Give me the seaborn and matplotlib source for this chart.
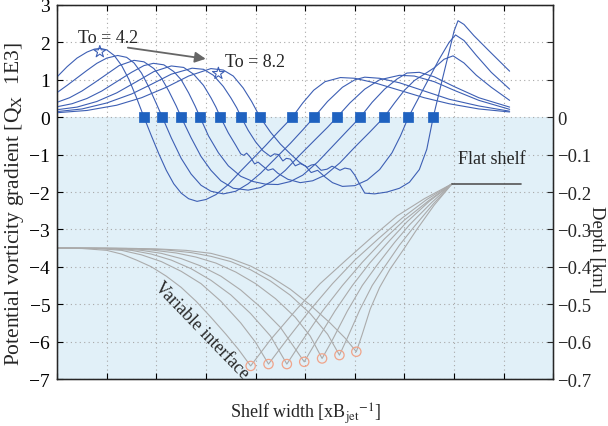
"""Shelf PV gradient and interface depth for increasing To."""

import numpy as np
import pandas as pd
import matplotlib
matplotlib.use('Agg')
import matplotlib.pyplot as plt
import seaborn as sns

# potential vorticity gradient curves, one per To (4.2 ... 8.2)
pv_x_1 = [0, 0.2, 0.4, 0.6, 0.75, 0.87, 1.0, 1.15, 1.3, 1.45, 1.6, 1.75, 1.9, 2.05, 2.2, 2.35, 2.5, 2.65, 2.82, 3.0, 3.2, 3.45, 3.7, 3.95, 4.2, 4.45, 4.74, 4.95, 5.17, 5.4, 5.71, 6.0, 6.4, 6.9, 7.4, 7.9, 8.5, 9.12]
pv_y_1 = [1.08, 1.35, 1.58, 1.74, 1.82, 1.84, 1.8, 1.65, 1.38, 1.0, 0.52, 0, -0.5, -0.98, -1.42, -1.78, -2.03, -2.18, -2.25, -2.2, -2.07, -1.8, -1.44, -1.1, -0.76, -0.4, 0, 0.38, 0.72, 0.95, 1.06, 1.04, 0.92, 0.72, 0.52, 0.36, 0.22, 0.14]
pv_x_2 = [0, 0.2, 0.4, 0.6, 0.8, 1.0, 1.22, 1.4, 1.55, 1.7, 1.85, 2.0, 2.12, 2.3, 2.5, 2.7, 2.9, 3.1, 3.35, 3.6, 3.85, 4.1, 4.4, 4.7, 4.95, 5.18, 5.45, 5.75, 6.0, 6.2, 6.5, 6.9, 7.4, 7.9, 8.5, 9.12]
pv_y_2 = [0.66, 0.85, 1.05, 1.25, 1.44, 1.58, 1.65, 1.6, 1.45, 1.18, 0.8, 0.36, 0, -0.55, -1.1, -1.52, -1.82, -1.98, -2.05, -1.98, -1.78, -1.5, -1.1, -0.7, -0.34, 0, 0.42, 0.8, 1.0, 1.07, 1.04, 0.92, 0.7, 0.48, 0.3, 0.16]
pv_x_3 = [0, 0.25, 0.5, 0.75, 1.0, 1.25, 1.55, 1.75, 1.95, 2.1, 2.25, 2.4, 2.5, 2.7, 2.9, 3.1, 3.3, 3.55, 3.85, 4.1, 4.35, 4.6, 4.9, 5.2, 5.45, 5.64, 5.9, 6.2, 6.5, 6.9, 7.2, 7.6, 8.0, 8.5, 9.12]
pv_y_3 = [0.40, 0.52, 0.7, 0.92, 1.15, 1.38, 1.52, 1.48, 1.3, 1.05, 0.7, 0.3, 0, -0.55, -1.05, -1.42, -1.7, -1.9, -1.95, -1.88, -1.7, -1.42, -1.0, -0.6, -0.27, 0, 0.38, 0.75, 1.0, 1.12, 1.1, 0.95, 0.72, 0.45, 0.21]
pv_x_4 = [0, 0.3, 0.6, 0.9, 1.2, 1.5, 1.75, 1.94, 2.15, 2.35, 2.5, 2.65, 2.78, 2.88, 3.05, 3.25, 3.45, 3.7, 3.95, 4.2, 4.45, 4.7, 4.95, 5.25, 5.55, 5.85, 6.11, 6.35, 6.6, 6.85, 7.05, 7.3, 7.6, 8.0, 8.5, 9.12]
pv_y_4 = [0.28, 0.36, 0.5, 0.7, 0.95, 1.2, 1.38, 1.44, 1.4, 1.22, 1.0, 0.65, 0.3, 0, -0.5, -0.95, -1.3, -1.58, -1.72, -1.79, -1.8, -1.72, -1.55, -1.2, -0.78, -0.36, 0, 0.4, 0.75, 1.02, 1.18, 1.2, 1.08, 0.82, 0.52, 0.27]
pv_x_5 = [0, 0.4, 0.8, 1.2, 1.6, 1.95, 2.3, 2.55, 2.75, 2.95, 3.1, 3.2, 3.29, 3.45, 3.6, 3.7, 3.76, 3.82, 3.9, 3.98, 4.05, 4.12, 4.25, 4.35, 4.45, 4.65, 4.9, 5.15, 5.4, 5.7, 6.0, 6.3, 6.59, 6.8, 7.0, 7.2, 7.46, 7.6, 7.8, 7.98, 8.2, 8.45, 8.75, 9.12]
pv_y_5 = [0.2, 0.27, 0.42, 0.65, 0.95, 1.22, 1.37, 1.33, 1.15, 0.85, 0.52, 0.27, 0, -0.42, -0.75, -0.98, -1.02, -0.96, -1.08, -1.25, -1.2, -1.28, -1.42, -1.38, -1.5, -1.66, -1.75, -1.7, -1.55, -1.22, -0.8, -0.4, 0, 0.38, 0.72, 0.98, 1.2, 1.32, 1.55, 1.64, 1.45, 1.12, 0.8, 0.45]
pv_x_6 = [0, 0.5, 1.0, 1.5, 1.9, 2.3, 2.72, 2.95, 3.15, 3.35, 3.5, 3.62, 3.71, 3.85, 4.0, 4.15, 4.3, 4.38, 4.46, 4.55, 4.62, 4.7, 4.8, 4.9, 5.0, 5.12, 5.25, 5.4, 5.55, 5.75, 6.0, 6.25, 6.5, 6.75, 6.92, 7.08, 7.3, 7.5, 7.7, 7.9, 8.03, 8.2, 8.45, 8.75, 9.12]
pv_y_6 = [0.15, 0.22, 0.38, 0.62, 0.88, 1.15, 1.31, 1.28, 1.12, 0.82, 0.52, 0.25, 0, -0.35, -0.66, -0.9, -1.05, -0.98, -1.0, -1.17, -1.1, -1.12, -1.3, -1.24, -1.3, -1.48, -1.42, -1.6, -1.75, -1.85, -1.83, -1.68, -1.4, -0.95, -0.5, 0, 0.55, 1.05, 1.55, 2.0, 2.2, 2.05, 1.65, 1.2, 0.75]
pv_x_7 = [0, 0.6, 1.2, 1.7, 2.2, 2.65, 3.1, 3.35, 3.55, 3.75, 3.92, 4.09, 4.3, 4.5, 4.7, 4.88, 5.04, 5.12, 5.2, 5.32, 5.44, 5.54, 5.62, 5.7, 5.8, 5.91, 6.0, 6.08, 6.2, 6.4, 6.65, 6.9, 7.1, 7.3, 7.45, 7.58, 7.68, 7.78, 7.9, 8.0, 8.08, 8.2, 8.4, 8.7, 9.12]
pv_y_7 = [0.12, 0.18, 0.32, 0.52, 0.8, 1.1, 1.30, 1.26, 1.1, 0.78, 0.42, 0, -0.4, -0.72, -0.98, -1.2, -1.34, -1.28, -1.26, -1.42, -1.39, -1.31, -1.36, -1.42, -1.36, -1.39, -1.55, -1.75, -2.03, -2.05, -2.0, -1.9, -1.74, -1.4, -0.86, 0, 0.55, 1.1, 1.75, 2.3, 2.58, 2.48, 2.18, 1.78, 1.23]

# zero crossings of the PV gradient (squares)
zero_x = [1.75, 2.12, 2.50, 2.88, 3.29, 3.71, 4.09, 4.74, 5.18, 5.64, 6.11, 6.59, 7.08, 7.58]
zero_y = [0] * 14

# stars marking the first and last case
star_x = [0.86, 3.25]
star_y = [1.75, 1.17]

# interface (left axis units = depth x10): descending limb, bottom, rising limb to shelf edge
if_x_1 = [0, 0.5, 1.0, 1.3, 1.6, 1.9, 2.2, 2.5, 2.8, 3.1, 3.4, 3.65, 3.9, 4.3, 4.83, 5.3, 5.84, 6.35, 6.85, 7.4, 7.96]
if_y_1 = [-3.5, -3.51, -3.56, -3.66, -3.82, -4.0, -4.25, -4.55, -4.92, -5.35, -5.8, -6.2, -6.65, -5.95, -5.13, -4.45, -3.8, -3.2, -2.64, -2.18, -1.78]
if_x_2 = [0, 0.8, 1.3, 1.7, 2.1, 2.5, 2.9, 3.3, 3.7, 4.0, 4.26, 4.6, 5.1, 5.55, 6.0, 6.5, 6.95, 7.45, 7.96]
if_y_2 = [-3.5, -3.51, -3.56, -3.68, -3.86, -4.12, -4.45, -4.92, -5.5, -6.02, -6.6, -6.0, -5.15, -4.45, -3.82, -3.22, -2.7, -2.2, -1.78]
if_x_3 = [0, 1.0, 1.5, 1.9, 2.3, 2.7, 3.1, 3.5, 3.9, 4.3, 4.63, 4.9, 5.35, 5.75, 6.15, 6.6, 7.0, 7.5, 7.96]
if_y_3 = [-3.5, -3.51, -3.56, -3.66, -3.82, -4.05, -4.36, -4.75, -5.25, -5.85, -6.6, -6.05, -5.18, -4.5, -3.88, -3.25, -2.75, -2.22, -1.78]
if_x_4 = [0, 1.2, 1.7, 2.1, 2.5, 2.9, 3.3, 3.7, 4.1, 4.5, 4.98, 5.22, 5.6, 5.95, 6.3, 6.7, 7.05, 7.5, 7.96]
if_y_4 = [-3.5, -3.51, -3.56, -3.64, -3.78, -3.98, -4.25, -4.62, -5.08, -5.62, -6.54, -6.0, -5.18, -4.5, -3.9, -3.3, -2.8, -2.25, -1.78]
if_x_5 = [0, 1.4, 1.9, 2.4, 2.8, 3.2, 3.6, 4.0, 4.4, 4.8, 5.1, 5.34, 5.55, 5.85, 6.15, 6.45, 6.8, 7.1, 7.55, 7.96]
if_y_5 = [-3.5, -3.51, -3.55, -3.63, -3.74, -3.9, -4.14, -4.45, -4.85, -5.35, -5.85, -6.45, -5.95, -5.18, -4.5, -3.95, -3.35, -2.88, -2.28, -1.78]
if_x_6 = [0, 1.6, 2.2, 2.7, 3.1, 3.5, 3.9, 4.3, 4.7, 5.1, 5.45, 5.69, 5.85, 6.1, 6.35, 6.6, 6.9, 7.2, 7.58, 7.96]
if_y_6 = [-3.5, -3.51, -3.55, -3.62, -3.72, -3.86, -4.08, -4.38, -4.76, -5.25, -5.8, -6.36, -5.9, -5.15, -4.5, -4.0, -3.42, -2.92, -2.32, -1.78]
if_x_7 = [0, 1.0, 2.0, 2.6, 3.1, 3.5, 3.9, 4.3, 4.7, 5.1, 5.5, 5.8, 6.03, 6.15, 6.31, 6.5, 6.71, 7.0, 7.25, 7.6, 7.96]
if_y_7 = [-3.5, -3.5, -3.52, -3.56, -3.64, -3.78, -3.98, -4.26, -4.6, -5.02, -5.5, -5.9, -6.27, -5.8, -5.13, -4.55, -4.06, -3.5, -3.0, -2.35, -1.78]

# deepest point of each interface (circles)
bottom_x = [3.9, 4.26, 4.63, 4.98, 5.34, 5.69, 6.03]
bottom_y = [-6.65, -6.6, -6.6, -6.54, -6.45, -6.36, -6.27]

# flat shelf segment
shelf_x = [7.96, 9.35]
shelf_y = [-1.78, -1.78]

depth_ticks = [0.2, 0.1, 0, -0.1, -0.2, -0.3, -0.4, -0.5, -0.6, -0.7]
depth_labels = ['', '', '0', '\u22120.1', '\u22120.2', '\u22120.3', '\u22120.4', '\u22120.5', '\u22120.6', '\u22120.7']


def long_frame(xs, ys):
    parts = []
    for i, (x, y) in enumerate(zip(xs, ys)):
        parts.append(pd.DataFrame({'x': x, 'y': y, 'case': i}))
    return pd.concat(parts, ignore_index=True)


if __name__ == '__main__':
    pv_df = long_frame([pv_x_1, pv_x_2, pv_x_3, pv_x_4, pv_x_5, pv_x_6, pv_x_7],
                       [pv_y_1, pv_y_2, pv_y_3, pv_y_4, pv_y_5, pv_y_6, pv_y_7])
    if_df = long_frame([if_x_1, if_x_2, if_x_3, if_x_4, if_x_5, if_x_6, if_x_7],
                       [if_y_1, if_y_2, if_y_3, if_y_4, if_y_5, if_y_6, if_y_7])

    sns.set_style('white')
    plt.rcParams['font.family'] = ['Liberation Serif', 'DejaVu Serif']
    plt.rcParams['mathtext.fontset'] = 'stix'
    plt.rcParams['font.size'] = 13

    fig = plt.figure(figsize=(6.08, 4.27), dpi=100)
    ax = fig.add_axes([0.094, 0.110, 0.816, 0.876])
    ax.axhspan(-7, 0, color='#e1f0f8', zorder=0, lw=0)

    sns.lineplot(data=if_df, x='x', y='y', units='case', estimator=None, sort=False,
                 color='#ababab', lw=0.8, ax=ax, zorder=2)
    ax.plot(shelf_x, shelf_y, color='#555555', lw=1.2, zorder=2)
    sns.scatterplot(x=bottom_x, y=bottom_y, marker='o', s=45, facecolor='none',
                    edgecolor='#f0a48a', linewidth=0.9, ax=ax, zorder=4)

    sns.lineplot(data=pv_df, x='x', y='y', units='case', estimator=None, sort=False,
                 color='#3d5fb4', lw=0.8, ax=ax, zorder=3)
    sns.scatterplot(x=zero_x, y=zero_y, marker='s', s=42, color='#1f62c0',
                    edgecolor='#1f62c0', ax=ax, zorder=5)
    sns.scatterplot(x=star_x, y=star_y, marker='*', s=80, facecolor='none',
                    edgecolor='#3d5fb4', linewidth=0.8, ax=ax, zorder=5)

    ax.annotate('', xy=(3.05, 1.55), xytext=(1.37, 1.87),
                arrowprops=dict(arrowstyle='-|>', color='#666666', lw=1.3,
                                mutation_scale=16))
    ax.text(0.42, 2.14, 'To = 4.2', fontsize=13, va='center', ha='left')
    ax.text(3.39, 1.5, 'To = 8.2', fontsize=13, va='center', ha='left')
    ax.text(8.08, -1.1, 'Flat shelf', fontsize=13, va='center', ha='left')
    ax.text(2.92, -5.67, 'Variable interface', fontsize=13, rotation=-46,
            rotation_mode='anchor', ha='center', va='center')

    ax.set_xlim(0, 10)
    ax.set_ylim(-7, 3)
    ax.set_xticks(range(0, 11))
    ax.set_xticklabels([])
    ax.set_yticks(range(-7, 4))
    ax.grid(True, linestyle=(0, (1, 3)), color='#a8a8a8', lw=0.8)
    ax.tick_params(direction='in', length=4, width=0.8, bottom=True, left=True,
                   top=True, labelsize=14, colors='black', pad=5)
    for sp in ax.spines.values():
        sp.set_color('black')
        sp.set_linewidth(1.0)
    ax.set_xlabel('Shelf width [xB$_{\\mathrm{jet}}$$^{\\mathrm{-1}}$]', fontsize=13, labelpad=10)
    ax.set_ylabel('Potential vorticity gradient [Q$_{\\mathrm{X}}$  1E3]', fontsize=15.5)
    ax.yaxis.set_label_coords(-0.062, 0.47)

    ax2 = ax.twinx()
    ax2.set_ylim(-0.7, 0.3)
    ax2.set_yticks(depth_ticks)
    ax2.set_yticklabels(depth_labels)
    ax2.tick_params(direction='in', length=4, width=0.8, labelsize=13.5, pad=3)
    ax2.set_ylabel('Depth [km]', fontsize=13.5, rotation=270)
    ax2.yaxis.set_label_coords(1.105, 0.35)
    ax2.grid(False)

    fig.savefig('out.png', dpi=100)
